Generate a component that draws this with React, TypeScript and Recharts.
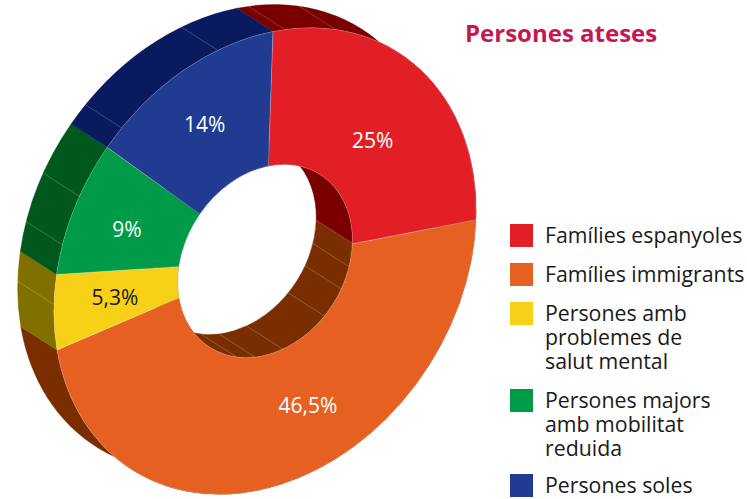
import { PieChart, Pie, Cell, Sector, Legend } from "recharts";

const categories = [
  "Famílies espanyoles",
  "Famílies immigrants",
  "Persones amb\nproblemes de\nsalut mental",
  "Persones majors\namb mobilitat\nreduida",
  "Persones soles",
];
const values = [25, 46.5, 5.3, 9, 14];
const valueLabels = ["25%", "46,5%", "5,3%", "9%", "14%"];
// the labels are placed by hand in the original, not quite on the mid angle
const labelRadii = [164, 174, 176, 177, 180];
const labelShifts = [-3, 13, -0.7, 1.6, 0];
const topColors = ["#E21F26", "#E66021", "#F7D117", "#009B48", "#213B91"];
const wallColors = ["#7A0000", "#7A2E00", "#807000", "#00581F", "#0A1A5E"];
const labelColors = ["#fff", "#fff", "#1a1a1a", "#fff", "#fff"];
const legendGaps = [15, 15, 15, 13, 0];
// facet lines on the side walls, pie angles in degrees
const outerSeams = [91.2, 77.1, 109.5, 139.3, 158, 170.1, 184.8];
const innerSeams = [4.7, -9.3, -22.7, -40.6, -71.7, -89.9, -102.3];

const data = categories.map((name, i) => ({ name, value: values[i] }));

const CX = 265;
const CY = 261;
const OUTER = 247.5;
const INNER = 102.5;
const START = 94.4;
const FONT = "'Open Sans', sans-serif";

// the disc is squashed along (ux, uy) and extruded the opposite way
const ux = 0.842;
const uy = 0.538;
const SQUASH = 0.785;
const DEPTH = 54.8;
const ma = 1 + (SQUASH - 1) * ux * ux;
const mb = (SQUASH - 1) * ux * uy;
const md = 1 + (SQUASH - 1) * uy * uy;
const tilt = `translate(${CX} ${CY}) matrix(${ma} ${mb} ${mb} ${md} 0 0) translate(${-CX} ${-CY})`;

const RAD = Math.PI / 180;
const pt = (cx: number, cy: number, r: number, a: number) => [
  cx + r * Math.cos(a * RAD),
  cy - r * Math.sin(a * RAD),
];

function wallShape(r: number, seams: number[]) {
  return function WallShape(props: any) {
    const { cx, cy, startAngle, endAngle, fill } = props;
    const a0 = Math.max(startAngle, endAngle);
    const a1 = Math.min(startAngle, endAngle);
    const dx = -ux * DEPTH;
    const dy = -uy * DEPTH;
    const [x0, y0] = pt(cx, cy, r, a0);
    const [x1, y1] = pt(cx, cy, r, a1);
    const large = a0 - a1 > 180 ? 1 : 0;
    const d = `M${x0} ${y0}A${r} ${r} 0 ${large} 1 ${x1} ${y1}L${x1 + dx} ${y1 + dy}A${r} ${r} 0 ${large} 0 ${x0 + dx} ${y0 + dy}Z`;
    // sector angles run past -180 on the way round
    const lines = seams
      .map((s) => (s > a0 ? s - 360 : s))
      .filter((s) => s <= a0 && s >= a1);
    return (
      <g transform={tilt}>
        <path d={d} fill={fill} stroke={fill} strokeWidth={0.4} />
        {lines.map((s) => {
          const [sx, sy] = pt(cx, cy, r, s);
          return (
            <line
              key={s}
              x1={sx}
              y1={sy}
              x2={sx + dx}
              y2={sy + dy}
              stroke="#fff"
              strokeOpacity={0.32}
              strokeWidth={0.7}
            />
          );
        })}
      </g>
    );
  };
}

function TopShape(props: any) {
  return (
    <g transform={tilt}>
      <Sector {...props} stroke="#fff" strokeOpacity={0.35} strokeWidth={0.6} />
    </g>
  );
}

function renderLabel(props: any) {
  const { cx, cy, midAngle, index } = props;
  const [x, y] = pt(0, 0, labelRadii[index], midAngle + labelShifts[index]);
  return (
    <text
      x={cx + ma * x + mb * y}
      y={cy + mb * x + md * y + 1}
      fill={labelColors[index]}
      fontSize={21}
      fontFamily={FONT}
      textAnchor="middle"
      dominantBaseline="central"
    >
      {valueLabels[index]}
    </text>
  );
}

function renderLegend() {
  return (
    <div style={{ fontFamily: FONT, fontSize: 21.3, lineHeight: "24px", color: "#1a1a1a" }}>
      {categories.map((name, i) => (
        <div key={name} style={{ display: "flex", marginBottom: legendGaps[i] }}>
          <div style={{ width: 23, height: 23, background: topColors[i], marginRight: 12, flex: "none" }} />
          <div style={{ whiteSpace: "pre-line", position: "relative", top: -1 }}>{name}</div>
        </div>
      ))}
    </div>
  );
}

export default function App() {
  const pieProps = {
    data,
    dataKey: "value",
    nameKey: "name",
    cx: CX,
    cy: CY,
    startAngle: START,
    endAngle: START - 360,
    outerRadius: OUTER,
    innerRadius: INNER,
    paddingAngle: 0,
    isAnimationActive: false,
  };
  return (
    <div style={{ position: "absolute", left: 0, top: 0, width: 747, height: 499 }}>
      <PieChart width={747} height={499} margin={{ top: 0, right: 0, bottom: 0, left: 0 }}>
        <Pie {...pieProps} shape={wallShape(OUTER, outerSeams)} legendType="none">
          {wallColors.map((c) => (
            <Cell key={c} fill={c} />
          ))}
        </Pie>
        <Pie {...pieProps} shape={wallShape(INNER, innerSeams)} legendType="none">
          {wallColors.map((c) => (
            <Cell key={c} fill={c} />
          ))}
        </Pie>
        <Pie {...pieProps} shape={TopShape} label={renderLabel} labelLine={false}>
          {topColors.map((c) => (
            <Cell key={c} fill={c} />
          ))}
        </Pie>
        <Legend
          content={renderLegend}
          wrapperStyle={{ position: "absolute", left: 510, top: 224, width: 237 }}
        />
        <text
          x={465}
          y={42}
          fill="#C8174F"
          fontSize={24}
          fontWeight={700}
          fontFamily={FONT}
        >
          Persones ateses
        </text>
      </PieChart>
    </div>
  );
}
